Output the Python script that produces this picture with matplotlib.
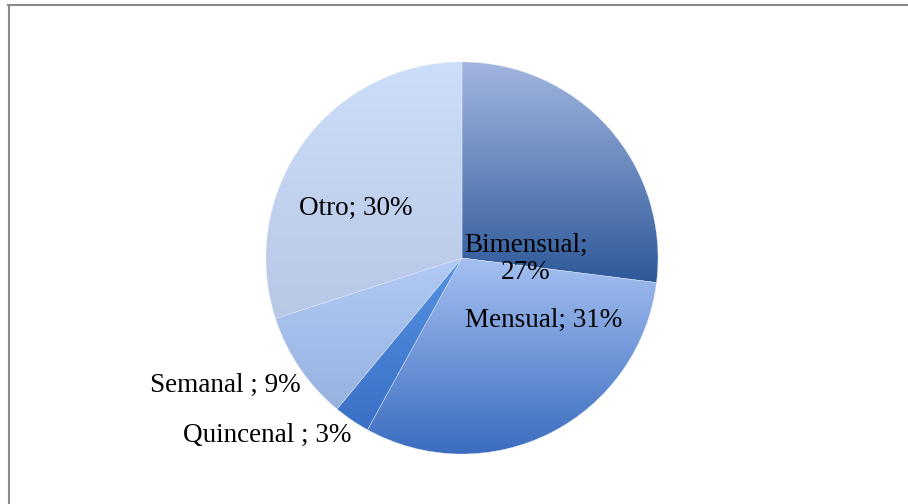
import numpy as np
import matplotlib
matplotlib.use("Agg")
import matplotlib.pyplot as plt
from matplotlib.colors import LinearSegmentedColormap
from matplotlib.lines import Line2D

# Data
categories = ["Bimensual", "Mensual", "Quincenal", "Semanal", "Otro"]
shares = [27, 31, 3, 9, 30]
label_texts = ["Bimensual;\n27%", "Mensual; 31%", "Quincenal ; 3%", "Semanal ; 9%", "Otro; 30%"]

# gradient (top colour, bottom colour) per slice
grad_colors = [
    ("#a2b6df", "#2d5899"),
    ("#a6c1f2", "#3a6cbf"),
    ("#5592e2", "#3a70c6"),
    ("#b1cbf6", "#97b2df"),
    ("#cddefa", "#b7c7e5"),
]

# label anchor points in pixel coords (x, y from top)
label_pos = [(526, 259), (544, 320), (267, 435), (225, 385), (356, 208)]

W, H = 908, 504
fig = plt.figure(figsize=(W / 100, H / 100), dpi=100)
ax = fig.add_axes([0, 0, 1, 1])

cx, cy, r = 462, H - 258, 196
wedges, _ = ax.pie(shares, center=(cx, cy), radius=r, startangle=90,
                   counterclock=False, frame=True,
                   wedgeprops=dict(edgecolor="#dfe7f7", linewidth=0.25))

ax.set_xlim(0, W)
ax.set_ylim(0, H)
ax.set_aspect("equal")
ax.axis("off")

# gradient fill clipped to each wedge
for w, (c_top, c_bot) in zip(wedges, grad_colors):
    path = w.get_path().transformed(w.get_patch_transform())
    verts = path.vertices
    y0, y1 = verts[:, 1].min(), verts[:, 1].max()
    x0, x1 = verts[:, 0].min(), verts[:, 0].max()
    cmap = LinearSegmentedColormap.from_list("g", [c_bot, c_top])
    grad = np.linspace(0, 1, 256).reshape(-1, 1)
    im = ax.imshow(grad, cmap=cmap, origin="lower", aspect="auto",
                   extent=(x0 - 1, x1 + 1, y0 - 1, y1 + 1), zorder=1.5)
    im.set_clip_path(w)
    w.set_facecolor("none")
    w.set_zorder(2)

ax.set_xlim(0, W)
ax.set_ylim(0, H)

for txt, (px, py) in zip(label_texts, label_pos):
    ax.text(px, H - py, txt, ha="center", va="center", fontsize=19.5,
            family="Liberation Serif", color="black", zorder=3,
            linespacing=1.08)

# frame lines (top and left)
fig.add_artist(Line2D([8 / W, 1], [1 - 4.5 / H, 1 - 4.5 / H], color="#8a8a8a", lw=1.5))
fig.add_artist(Line2D([8.5 / W, 8.5 / W], [0, 1 - 4.5 / H], color="#8a8a8a", lw=1.5))

fig.savefig("out.png", dpi=100, facecolor="white")
